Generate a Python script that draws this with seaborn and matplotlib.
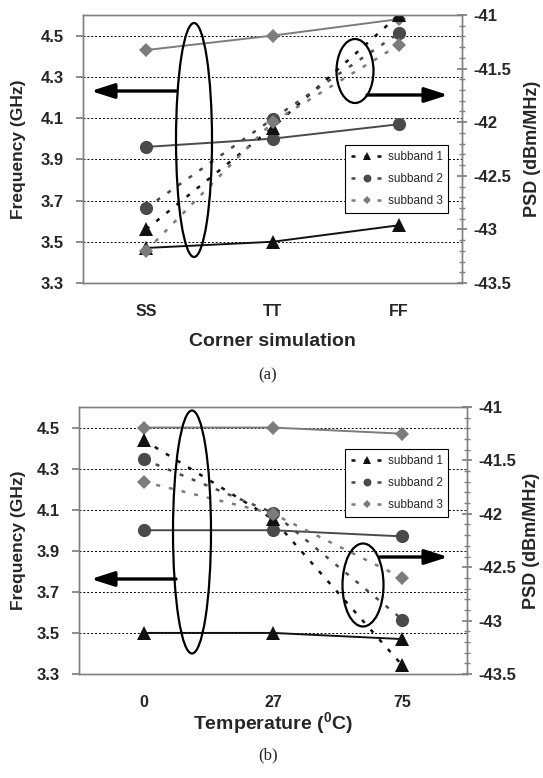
import numpy as np
import pandas as pd
import matplotlib
matplotlib.use("Agg")
import matplotlib.pyplot as plt
import seaborn as sns
from matplotlib.patches import Ellipse, FancyArrowPatch
from matplotlib.ticker import MultipleLocator

# ---------------- data ----------------
corners = ["SS", "TT", "FF"]
temps = ["0", "27", "75"]
series_names = ["subband 1", "subband 2", "subband 3"]

freq_a_sub1 = [3.47, 3.50, 3.58]
freq_a_sub2 = [3.96, 4.00, 4.07]
freq_a_sub3 = [4.43, 4.50, 4.58]
psd_a_sub1 = [-43.00, -42.05, -41.00]
psd_a_sub2 = [-42.80, -41.97, -41.17]
psd_a_sub3 = [-43.20, -42.00, -41.28]

freq_b_sub1 = [3.50, 3.50, 3.47]
freq_b_sub2 = [4.00, 4.00, 3.97]
freq_b_sub3 = [4.50, 4.50, 4.47]
psd_b_sub1 = [-41.31, -42.05, -43.42]
psd_b_sub2 = [-41.49, -41.99, -42.99]
psd_b_sub3 = [-41.70, -42.00, -42.60]

freq_yticks = [3.3, 3.5, 3.7, 3.9, 4.1, 4.3, 4.5]
psd_yticks = [-43.5, -43, -42.5, -42, -41.5, -41]

# ---------------- style ----------------
sns.set_theme(style="white")
plt.rcParams["font.family"] = ["Liberation Sans", "DejaVu Sans"]
plt.rcParams["mathtext.fontset"] = "custom"
plt.rcParams["mathtext.rm"] = "Liberation Sans"
plt.rcParams["mathtext.bf"] = "Liberation Sans:bold"

W, H = 543, 778
fig = plt.figure(figsize=(W / 100, H / 100), dpi=100)

colors = ["#111111", "#4a4a4a", "#7c7c7c"]
markers = ["^", "o", "D"]
msizes = [10, 9.5, 7.5]
SPINE = "#808080"


def fx(x):
    return x / W


def fy(y):
    return 1 - y / H


def make_panel(rect_px, cats, freqs, psds, xlabel, xlab_y, legend_px, ylab_x, psdlab_x):
    l, r, t, b = rect_px
    ax = fig.add_axes([fx(l), fy(b), (r - l) / W, (b - t) / H])
    ax2 = ax.twinx()
    pos = np.arange(len(cats))

    for i, vals in enumerate(freqs):
        df = pd.DataFrame({"x": pos, "y": vals})
        sns.lineplot(data=df, x="x", y="y", ax=ax, color=colors[i], marker=markers[i],
                     markersize=msizes[i], markeredgewidth=0, lw=1.4, sort=False,
                     estimator=None, legend=False)
    handles = []
    for i, vals in enumerate(psds):
        df = pd.DataFrame({"x": pos, "y": vals})
        sns.lineplot(data=df, x="x", y="y", ax=ax2, color=colors[i], marker=markers[i],
                     markersize=msizes[i], markeredgewidth=0, lw=1.8,
                     linestyle=(0, (1.6, 3.6)), sort=False, estimator=None, legend=False)
        handles.append(ax2.lines[-1])

    ax.set_xlim(-0.5, len(cats) - 0.5)
    ax.set_ylim(3.3, 4.6)
    ax2.set_ylim(-43.5, -41)
    ax.set_xticks(pos)
    ax.set_xticklabels(cats, fontweight="bold", fontsize=11.5)
    ax.set_xticks(np.arange(len(cats) + 1) - 0.5, minor=True)
    ax.tick_params(axis="x", which="major", length=0, pad=15)
    ax.tick_params(axis="x", which="minor", length=7, direction="inout", color=SPINE, width=1)
    ax.set_yticks(freq_yticks)
    ax.set_yticklabels([f"{v:.1f}" for v in freq_yticks], fontweight="bold", fontsize=12)
    ax.tick_params(axis="y", which="major", length=5, direction="out", color=SPINE, pad=9, left=True)
    ax2.set_yticks(psd_yticks)
    ax2.set_yticklabels([f"{v:g}" for v in psd_yticks], fontweight="bold", fontsize=12)
    ax2.yaxis.set_minor_locator(MultipleLocator(0.1))
    ax2.tick_params(axis="y", which="major", length=7, direction="inout", color=SPINE, pad=5, right=True)
    ax2.tick_params(axis="y", which="minor", length=5, direction="inout", color=SPINE, right=True)

    ax.yaxis.grid(True, linestyle=(0, (2, 2)), color="black", lw=0.7)
    ax.xaxis.grid(False)
    ax2.grid(False)
    ax.set_axisbelow(True)
    for a in (ax, ax2):
        for s in a.spines.values():
            s.set_color(SPINE)
            s.set_linewidth(1.0)

    ax.set_xlabel(xlabel, fontweight="bold", fontsize=14)
    ax.xaxis.set_label_coords(0.5, xlab_y)
    ax.set_ylabel("Frequency (GHz)", fontweight="bold", fontsize=12.5)
    ax.yaxis.set_label_coords(ylab_x, 0.5)
    ax2.set_ylabel("PSD (dBm/MHz)", fontweight="bold", fontsize=13)
    ax2.yaxis.set_label_coords(psdlab_x, 0.5)

    lx, ly = legend_px
    leg = ax2.legend(handles, series_names, loc="upper left",
                     bbox_to_anchor=(fx(lx), fy(ly)), bbox_transform=fig.transFigure,
                     borderaxespad=0, fontsize=8.5, markerscale=0.6, handlelength=2.8,
                     handletextpad=0.3, labelspacing=0.85, borderpad=0.5,
                     fancybox=False, framealpha=1, edgecolor="black")
    leg.get_frame().set_linewidth(0.8)
    return ax, ax2


def ellipse(cx, cy, w, h):
    fig.add_artist(Ellipse((fx(cx), fy(cy)), w / W, h / H, transform=fig.transFigure,
                           fill=False, ec="black", lw=1.6, zorder=10))


def arrow(x0, y0, x1, y1):
    fig.add_artist(FancyArrowPatch((fx(x0), fy(y0)), (fx(x1), fy(y1)),
                                   transform=fig.transFigure,
                                   arrowstyle="-|>,head_length=1.4,head_width=0.45",
                                   mutation_scale=10, lw=2.4, color="black",
                                   shrinkA=0, shrinkB=0, zorder=10))


# panel (a)
make_panel((83, 462, 15, 283), corners,
           [freq_a_sub1, freq_a_sub2, freq_a_sub3],
           [psd_a_sub1, psd_a_sub2, psd_a_sub3],
           "Corner simulation", -0.185, (345, 145), -0.15, 1.163)
ellipse(194, 140, 36, 234)
ellipse(355, 71, 37, 64)
arrow(176, 91, 91, 91)
arrow(367, 95, 448, 95)
fig.text(fx(268), fy(375), "(a)", ha="center", va="center", fontsize=12,
         family=["Liberation Serif", "DejaVu Serif"])

# panel (b)
make_panel((79, 467, 407, 674), temps,
           [freq_b_sub1, freq_b_sub2, freq_b_sub3],
           [psd_b_sub1, psd_b_sub2, psd_b_sub3],
           r"Temperature ($\mathbf{^{0}}$C)", -0.135, (345, 449), -0.137, 1.145)
ellipse(192, 532, 38, 243)
ellipse(363, 585, 41, 83)
arrow(176, 579, 91, 579)
arrow(380, 557, 448, 557)
fig.text(fx(268), fy(755), "(b)", ha="center", va="center", fontsize=12,
         family=["Liberation Serif", "DejaVu Serif"])

fig.savefig("out.png", dpi=100)
